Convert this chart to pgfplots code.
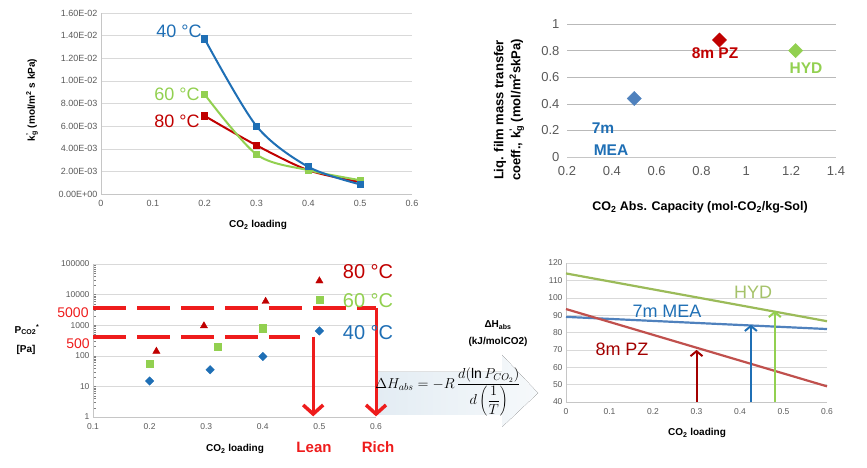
\documentclass[border=0pt]{standalone}
\usepackage{fontspec}
\setmainfont{Liberation Sans}
\usepackage{pgfplots}
\pgfplotsset{compat=1.18}
\usetikzlibrary{arrows.meta}
\definecolor{kblue}{HTML}{1F6FB5}
\definecolor{kgreen}{HTML}{92D050}
\definecolor{kred}{HTML}{C00000}
\definecolor{mblue}{HTML}{4F81BD}
\definecolor{mgreen}{HTML}{9BBB59}
\definecolor{mred}{HTML}{C0504D}
\definecolor{lred}{HTML}{EE1C1C}
\definecolor{tickc}{HTML}{595959}
\definecolor{paleL}{HTML}{E3ECF3}
\definecolor{paleR}{HTML}{F6F9FB}
\pgfplotsset{exc/.style={scale only axis, anchor=south west, clip=false,
  axis x line*=bottom, axis y line*=left, axis line style={-,gray!45},
  major tick length=0pt, ymajorgrids, grid style={gray!30},
  tick label style={text=tickc},
  /pgf/number format/assume math mode=true}}
\begin{document}
\begin{tikzpicture}[x=1pt,y=1pt]
\useasboundingbox (0pt,0pt) rectangle (867pt,468pt);
% pale arrow behind formula
\fill[left color=paleL, right color=paleR] (377pt,96pt) -- (502pt,96pt) -- (502pt,113pt) -- (538pt,75pt) -- (502pt,41pt) -- (502pt,53pt) -- (377pt,53pt) -- cycle;
% ---------- Panel 1 ----------
\begin{axis}[exc, at={(101pt,274pt)}, width=311pt, height=181pt,
  xmin=0, xmax=0.6, ymin=0, ymax=0.016,
  xtick={0,0.1,0.2,0.3,0.4,0.5,0.6}, xticklabels={0,0.1,0.2,0.3,0.4,0.5,0.6},
  ytick={0,0.002,0.004,0.006,0.008,0.01,0.012,0.014,0.016},
  yticklabels={0.00E+00,2.00E-03,4.00E-03,6.00E-03,8.00E-03,1.00E-02,1.20E-02,1.40E-02,1.60E-02},
  scaled y ticks=false,
  tick label style={font=\fontsize{9}{10}\selectfont},
  xticklabel style={yshift=-3pt}]
\addplot[kred, line width=2pt, smooth, mark=square*, mark size=2.6pt] coordinates {(0.2,0.0069) (0.3,0.0043) (0.4,0.0021) (0.5,0.00105)};
\addplot[kgreen, line width=2pt, smooth, mark=square*, mark size=2.6pt] coordinates {(0.2,0.0088) (0.3,0.0035) (0.4,0.0021) (0.5,0.00122)};
\addplot[kblue, line width=2pt, smooth, mark=square*, mark size=2.6pt] coordinates {(0.2,0.0137) (0.3,0.0060) (0.4,0.0024) (0.5,0.00085)};
\end{axis}
\node[rotate=90, font=\bfseries\fontsize{10}{12}\selectfont] at (32pt,368pt) {k\rlap{\textsuperscript{'}}\textsubscript{g} (mol/m\textsuperscript{2} s kPa)};
\node[font=\bfseries\fontsize{10}{12}\selectfont] at (258pt,243pt) {CO\textsubscript{2} loading};
\node[kblue, font=\fontsize{18}{20}\selectfont] at (179pt,437pt) {40 °C};
\node[kgreen, font=\fontsize{18}{20}\selectfont] at (177pt,374pt) {60 °C};
\node[kred, font=\fontsize{18}{20}\selectfont] at (177pt,347pt) {80 °C};
% ---------- Panel 2 ----------
\begin{axis}[exc, at={(567pt,311pt)}, width=269pt, height=133pt,
  xmin=0.2, xmax=1.4, ymin=0, ymax=1,
  xtick={0.2,0.4,0.6,0.8,1,1.2,1.4}, xticklabels={0.2,0.4,0.6,0.8,1,1.2,1.4},
  ytick={0,0.2,0.4,0.6,0.8,1}, yticklabels={0,0.2,0.4,0.6,0.8,1},
  y axis line style={draw=none},
  tick label style={font=\fontsize{13}{14}\selectfont},
  xticklabel style={yshift=-6pt}, yticklabel style={xshift=-4pt},
  grid style={gray!55}]
\addplot[only marks, mblue, mark=square*, mark size=5pt, mark options={rotate=45}] coordinates {(0.5,0.44)};
\addplot[only marks, kred, mark=square*, mark size=5pt, mark options={rotate=45}] coordinates {(0.88,0.88)};
\addplot[only marks, kgreen, mark=square*, mark size=5pt, mark options={rotate=45}] coordinates {(1.22,0.80)};
\end{axis}
\node[rotate=90, align=center, font=\bfseries\fontsize{13}{17}\selectfont] at (509pt,358pt) {Liq. film mass transfer\\coeff., k\rlap{\textsuperscript{'}}\textsubscript{g} (mol/m\textsuperscript{2}skPa)};
\node[font=\bfseries\fontsize{12.5}{14}\selectfont] at (700pt,261pt) {CO\textsubscript{2} Abs. Capacity (mol-CO\textsubscript{2}/kg-Sol)};
\node[kred, font=\bfseries\fontsize{15.5}{17}\selectfont] at (715pt,415pt) {8m PZ};
\node[kgreen, font=\bfseries\fontsize{15.5}{17}\selectfont] at (806pt,400pt) {HYD};
\node[kblue, font=\bfseries\fontsize{15.5}{17}\selectfont] at (603pt,340pt) {7m};
\node[kblue, font=\bfseries\fontsize{15.5}{17}\selectfont] at (611pt,318pt) {MEA};
% ---------- Panel 3 ----------
\begin{axis}[exc, at={(93pt,51pt)}, width=283pt, height=153pt,
  ymode=log, xmin=0.1, xmax=0.6, ymin=1, ymax=100000,
  xtick={0.1,0.2,0.3,0.4,0.5,0.6}, xticklabels={0.1,0.2,0.3,0.4,0.5,0.6},
  ytick={1,10,100,1000,10000,100000}, yticklabels={1,10,100,1000,10000,100000},
  minor y tick num=0, yminorgrids=false,
  tick label style={font=\fontsize{8.5}{9}\selectfont},
  xticklabel style={yshift=-3pt}]
\addplot[only marks, kblue, mark=square*, mark size=3pt, mark options={rotate=45}] coordinates {(0.2,15) (0.307,35) (0.4,95) (0.5,650)};
\addplot[only marks, kgreen, mark=square*, mark size=3.6pt] coordinates {(0.2,55) (0.32,200) (0.4,800) (0.5,7000)};
\addplot[only marks, kred, mark=triangle*, mark size=4.2pt] coordinates {(0.212,140) (0.296,950) (0.405,6000) (0.5,28000)};
\addplot[lred, line width=4pt, dash pattern=on 33pt off 11pt] coordinates {(0.1,3600) (0.6,3600)};
\addplot[lred, line width=4pt, dash pattern=on 33pt off 11pt] coordinates {(0.1,420) (0.465,420)};
\draw[lred, line width=3pt, -{Straight Barb[length=9pt, width=20pt, line width=3.5pt]}] (axis cs:0.489,420) -- (axis cs:0.489,1.05);
\draw[lred, line width=3pt, -{Straight Barb[length=9pt, width=20pt, line width=3.5pt]}] (axis cs:0.6,3700) -- (axis cs:0.6,1.05);
\end{axis}
\node[font=\bfseries\fontsize{10}{12}\selectfont] at (27pt,138pt) {P\textsubscript{CO2}\textsuperscript{*}};
\node[font=\bfseries\fontsize{10}{12}\selectfont] at (26pt,118pt) {[Pa]};
\node[lred, font=\fontsize{14}{15}\selectfont] at (73pt,155pt) {5000};
\node[lred, font=\fontsize{14}{15}\selectfont] at (78pt,124pt) {500};
\node[font=\bfseries\fontsize{10}{12}\selectfont] at (235pt,19pt) {CO\textsubscript{2} loading};
\node[lred, font=\bfseries\fontsize{15}{17}\selectfont] at (314pt,21pt) {Lean};
\node[lred, font=\bfseries\fontsize{15}{17}\selectfont] at (378pt,21pt) {Rich};
\node[kred, font=\fontsize{20}{22}\selectfont] at (368pt,196pt) {80 °C};
\node[kgreen, font=\fontsize{20}{22}\selectfont] at (368pt,167pt) {60 °C};
\node[kblue, font=\fontsize{20}{22}\selectfont] at (368pt,135pt) {40 °C};
% formula
\node[font=\fontsize{14}{16}\selectfont] at (448pt,76pt) {$\displaystyle \Delta H_{abs}=-R\,\frac{d(\ln P_{CO_2})}{d\left(\displaystyle\frac{1}{T}\right)}$};
% ---------- Panel 4 ----------
\begin{axis}[exc, at={(566pt,66pt)}, width=261pt, height=139pt,
  xmin=0, xmax=0.6, ymin=40, ymax=120,
  xtick={0,0.1,0.2,0.3,0.4,0.5,0.6}, xticklabels={0,0.1,0.2,0.3,0.4,0.5,0.6},
  ytick={40,50,60,70,80,90,100,110,120}, yticklabels={40,50,60,70,80,90,100,110,120},
  tick label style={font=\fontsize{8.5}{9}\selectfont},
  xticklabel style={yshift=-3pt}]
\addplot[mgreen, line width=2.2pt] coordinates {(0,114) (0.6,86.5)};
\addplot[mblue, line width=2.2pt] coordinates {(0,89) (0.6,82)};
\addplot[mred, line width=2.2pt] coordinates {(0,93.5) (0.6,49)};
\draw[kred!85!black, line width=2pt, -{Straight Barb[length=5pt, width=12pt, line width=2pt]}] (axis cs:0.3,40) -- (axis cs:0.3,70);
\draw[kblue, line width=2pt, -{Straight Barb[length=5pt, width=12pt, line width=2pt]}] (axis cs:0.425,40) -- (axis cs:0.425,84.5);
\draw[kgreen, line width=2pt, -{Straight Barb[length=5pt, width=12pt, line width=2pt]}] (axis cs:0.48,40) -- (axis cs:0.48,92.5);
\end{axis}
\node[font=\bfseries\fontsize{10}{12}\selectfont] at (498pt,143pt) {ΔH\textsubscript{abs}};
\node[font=\bfseries\fontsize{10}{12}\selectfont] at (498pt,126pt) {(kJ/molCO2)};
\node[font=\bfseries\fontsize{10}{12}\selectfont] at (697pt,35pt) {CO\textsubscript{2} loading};
\node[mgreen!90!white, font=\fontsize{18}{20}\selectfont] at (753pt,176pt) {HYD};
\node[kblue, font=\fontsize{18}{20}\selectfont] at (667pt,157pt) {7m MEA};
\node[kred!85!black, font=\fontsize{18}{20}\selectfont] at (622pt,119pt) {8m PZ};
\end{tikzpicture}
\end{document}
